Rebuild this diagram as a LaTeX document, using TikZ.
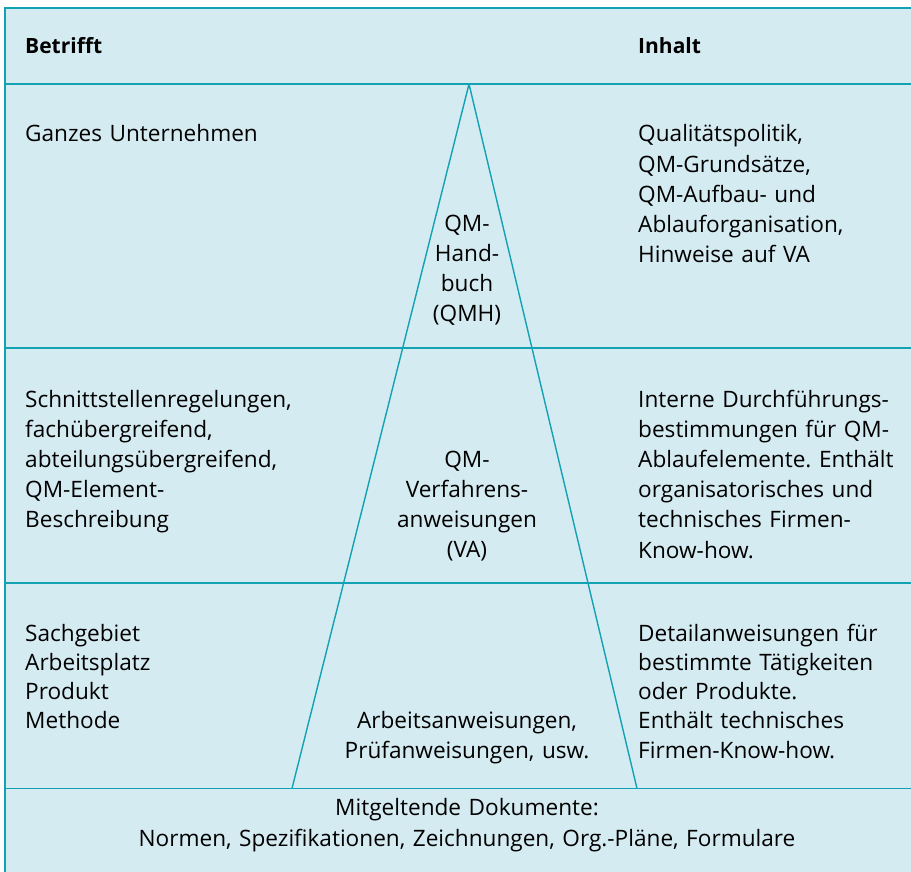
\documentclass[tikz,border=0pt]{standalone}
\usepackage{fontspec}
\setmainfont{Open Sans}
\definecolor{bg}{HTML}{D5EBF2}
\definecolor{ln}{HTML}{12A2B4}
\frenchspacing
\begin{document}
\begin{tikzpicture}[x=1pt,y=-1pt,
  rule/.style={draw=ln, line width=1.8pt},
  tri/.style={draw=ln, line width=1.4pt},
  ltxt/.style={font=\fontsize{22.6}{30.2}\selectfont, inner sep=0pt, text width=280pt, align=left, anchor=base west},
  ctxt/.style={font=\fontsize{22.6}{30.2}\selectfont, inner sep=0pt, text width=300pt, align=center, anchor=base},
  htxt/.style={font=\fontsize{21}{30.2}\selectfont\bfseries, inner sep=0pt, anchor=base west}]
\useasboundingbox (0,0) rectangle (911,872);
\fill[bg] (5,8) rectangle (911,872);
% frame and rules
\coordinate (tl) at (5,8);
\coordinate (tr) at (911,8);
\coordinate (bll) at (5,872);
\draw[rule] (bll) -- (tl) -- (tr);
\coordinate (h1l) at (5,84);   \coordinate (h1r) at (911,84);
\coordinate (h2l) at (5,348);  \coordinate (h2r) at (911,348);
\coordinate (h3l) at (5,583);  \coordinate (h3r) at (911,583);
\coordinate (h4l) at (5,788.5);\coordinate (h4r) at (911,788.5);
\draw[rule] (h1l) -- (h1r);
\draw[rule] (h2l) -- (h2r);
\draw[rule] (h3l) -- (h3r);
\draw[rule] (h4l) -- (h4r);
% pyramid
\coordinate (apex) at (469,84);
\coordinate (bl) at (292,788.5);
\coordinate (br) at (637,788.5);
\draw[tri] (apex) -- (bl);
\draw[tri] (apex) -- (br);
% header
\node[htxt] (hbetr) at (25,54) {Betrifft};
\node[htxt] (hinh) at (638,54) {Inhalt};
% row 1
\node[ltxt] (l1) at (25,142) {Ganzes Unternehmen};
\node[ctxt] (c1) at (467,231) {QM-\\Hand-\\buch\\(QMH)};
\node[ltxt] (r1) at (638,142) {Qualitätspolitik,\\QM-Grundsätze,\\QM-Aufbau- und\\Ablauforganisation,\\Hinweise auf VA};
% row 2
\node[ltxt] (l2) at (25,407) {Schnittstellenregelungen,\\fachübergreifend,\\abteilungsübergreifend,\\QM-Element-\\Beschreibung};
\node[ctxt] (c2) at (467,467) {QM-\\Verfahrens-\\anweisungen\\(VA)};
\node[ltxt] (r2) at (638,407) {Interne Durchführungs-\\bestimmungen für QM-\\Ablaufelemente. Enthält\\organisatorisches und\\technisches Firmen-\\Know-how.};
% row 3
\node[ltxt, font=\fontsize{22.6}{29.3}\selectfont] (l3) at (25,641) {Sachgebiet\\Arbeitsplatz\\Produkt\\Methode};
\node[ctxt, font=\fontsize{22.6}{30.5}\selectfont] (c3) at (467,728) {Arbeitsanweisungen,\\Prüfanweisungen, usw.};
\node[ltxt, font=\fontsize{22.6}{29.3}\selectfont] (r3) at (638,641) {Detailanweisungen für\\bestimmte Tätigkeiten\\oder Produkte.\\Enthält technisches\\Firmen-Know-how.};
% bottom
\node[ctxt, text width=800pt, font=\fontsize{22.6}{31.5}\selectfont] (bot) at (467,815) {Mitgeltende Dokumente:\\Normen, Spezifikationen, Zeichnungen, Org.-Pläne, Formulare};
\end{tikzpicture}
\end{document}
